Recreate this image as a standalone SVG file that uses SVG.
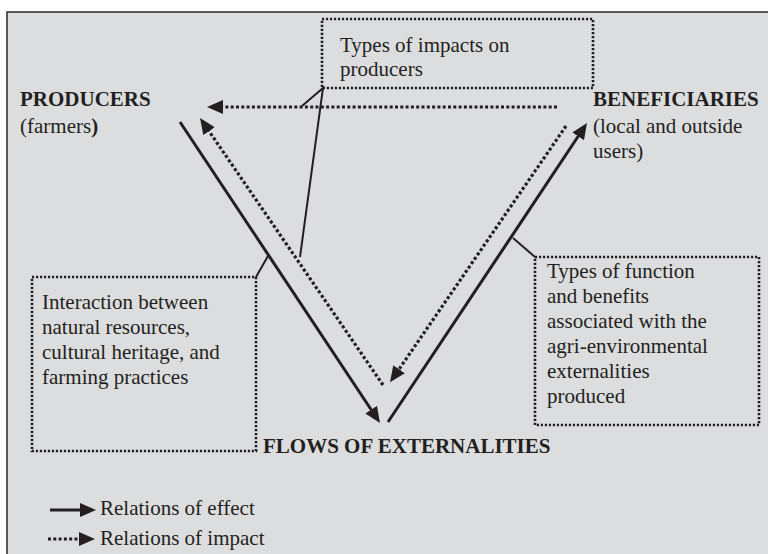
<svg xmlns="http://www.w3.org/2000/svg" width="768" height="554" viewBox="0 0 768 554">
  <style>
    .txt { font-family: "Liberation Serif", "Times New Roman", Times, "DejaVu Serif", serif; font-size: 21px; fill: #231f20; }
    .bold { font-weight: bold; }
    .box { fill: none; stroke: #231f20; stroke-width: 2.6; stroke-dasharray: 2.2 1.8; }
    .effect { fill: none; stroke: #231f20; stroke-width: 3; marker-end: url(#head); }
    .impact { fill: none; stroke: #231f20; stroke-width: 3.2; stroke-dasharray: 3 2.3; marker-end: url(#head); }
    .link { fill: none; stroke: #231f20; stroke-width: 2; }
  </style>
  <defs>
    <marker id="head" markerUnits="userSpaceOnUse" viewBox="0 0 16 14" markerWidth="16" markerHeight="14" refX="1" refY="7" orient="auto">
      <path d="M0,0 L16,7 L0,14 z" fill="#231f20"/>
    </marker>
  </defs>

  <rect width="768" height="554" fill="#ffffff"/>
  <!-- panel -->
  <rect x="7" y="12" width="800" height="600" fill="#dcdddf" stroke="#333333" stroke-width="1.6"/>

  <!-- connectors -->
  <g id="connectors">
    <!-- producers to flows (effect) -->
    <line class="effect" x1="180" y1="122" x2="371.7" y2="410.5"/>
    <!-- flows to producers (impact) -->
    <line class="impact" x1="383" y1="385" x2="208.5" y2="130.4"/>
    <!-- flows to beneficiaries (effect) -->
    <line class="effect" x1="388" y1="422" x2="578.7" y2="135.5"/>
    <!-- beneficiaries to flows (impact) -->
    <line class="impact" x1="566" y1="126" x2="398.5" y2="370"/>
    <!-- beneficiaries to producers (impact) -->
    <line class="impact" x1="557" y1="107" x2="222" y2="107"/>
    <!-- callout leaders -->
    <polyline class="link" points="302,106 323,88 300,257"/>
    <line class="link" x1="256" y1="277" x2="268" y2="256"/>
    <line class="link" x1="513" y1="238" x2="535" y2="257"/>
  </g>

  <!-- nodes -->
  <g id="producers">
    <text class="txt bold" x="20" y="106">PRODUCERS</text>
    <text class="txt" x="20" y="133">(farmers<tspan class="bold">)</tspan></text>
  </g>

  <g id="beneficiaries">
    <text class="txt bold" x="593" y="106">BENEFICIARIES</text>
    <text class="txt" x="593" y="133">(local and outside</text>
    <text class="txt" x="593" y="158">users)</text>
  </g>

  <g id="flows">
    <text class="txt bold" x="263" y="453">FLOWS OF EXTERNALITIES</text>
  </g>

  <g id="impacts-box">
    <rect class="box" x="322" y="19" width="271" height="69"/>
    <text class="txt" x="340" y="52">Types of impacts on</text>
    <text class="txt" x="340" y="76">producers</text>
  </g>

  <g id="interaction-box">
    <rect class="box" x="32" y="277" width="224" height="174"/>
    <text class="txt" x="42" y="309">Interaction between</text>
    <text class="txt" x="42" y="334">natural resources,</text>
    <text class="txt" x="42" y="359">cultural heritage, and</text>
    <text class="txt" x="42" y="384">farming practices</text>
  </g>

  <g id="functions-box">
    <rect class="box" x="535" y="257" width="224" height="168"/>
    <text class="txt" x="547" y="278">Types of function</text>
    <text class="txt" x="547" y="303">and benefits</text>
    <text class="txt" x="547" y="328">associated with the</text>
    <text class="txt" x="547" y="353">agri-environmental</text>
    <text class="txt" x="547" y="378">externalities</text>
    <text class="txt" x="547" y="403">produced</text>
  </g>

  <!-- legend -->
  <g id="legend">
    <line class="effect" x1="50" y1="510" x2="81" y2="510"/>
    <text class="txt" x="100" y="515">Relations of effect</text>
    <line class="impact" x1="48" y1="539" x2="80" y2="539"/>
    <text class="txt" x="100" y="545">Relations of impact</text>
  </g>
</svg>
